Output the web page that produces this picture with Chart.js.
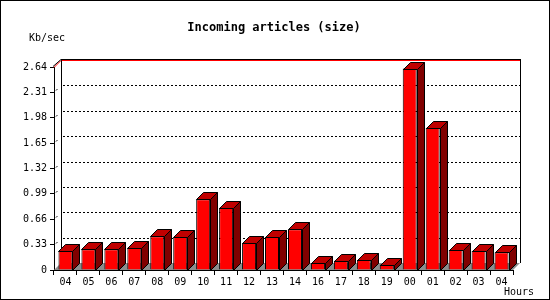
<!DOCTYPE html>
<html lang="en">
<head>
  <meta charset="UTF-8">
  <title>Incoming articles (size)</title>
  <style>
    body { margin: 0; background: #fff; }
    canvas { display: block; }
  </style>
</head>
<body>
  <canvas id="grafico" width="550" height="300"></canvas>

  <script src="https://cdn.jsdelivr.net/npm/chart.js"></script>
  <script>
    // data
    const hours = ['04', '05', '06', '07', '08', '09', '10', '11', '12', '13', '14', '16', '17', '18', '19', '00', '01', '02', '03', '04'];
    const kbPerSec = [0.25, 0.27, 0.27, 0.29, 0.44, 0.43, 0.92, 0.81, 0.35, 0.43, 0.53, 0.09, 0.12, 0.13, 0.07, 2.62, 1.85, 0.26, 0.25, 0.23];
    const yTickValues = [0, 0.33, 0.66, 0.99, 1.32, 1.65, 1.98, 2.31, 2.64];
    const yTickLabels = ['0', '0.33', '0.66', '0.99', '1.32', '1.65', '1.98', '2.31', '2.64'];

    const D = 7; // depth of the 3d effect
    const mono = '"DejaVu Sans Mono", "Liberation Mono", monospace';

    // back wall, floor, grid and the 3d faces of the bars
    const caja3d = {
      id: 'caja3d',
      beforeDatasetsDraw(chart) {
        const { ctx, chartArea: a, scales: { y } } = chart;
        const L = a.left, R = a.right, B = a.bottom;
        const top = Math.round(y.getPixelForValue(yTickValues[yTickValues.length - 1]));
        ctx.save();

        // floor
        ctx.fillStyle = '#8c8c8c';
        ctx.beginPath();
        ctx.moveTo(L, B);
        ctx.lineTo(R, B);
        ctx.lineTo(R + D, B - D);
        ctx.lineTo(L + D, B - D);
        ctx.closePath();
        ctx.fill();

        // dotted grid on the back wall
        ctx.strokeStyle = '#000';
        ctx.lineWidth = 1;
        ctx.setLineDash([2, 2]);
        yTickValues.slice(1, -1).forEach(v => {
          const py = Math.round(y.getPixelForValue(v)) - D + 0.5;
          ctx.beginPath();
          ctx.moveTo(L + D + 2, py);
          ctx.lineTo(R + D, py);
          ctx.stroke();
          // small slanted mark between axis and wall
          ctx.beginPath();
          ctx.moveTo(L + 2, py + D - 2);
          ctx.lineTo(L + 4, py + D - 4);
          ctx.stroke();
        });
        ctx.setLineDash([]);

        // wall edges
        ctx.beginPath();
        ctx.moveTo(L + D + 0.5, top - D);
        ctx.lineTo(L + D + 0.5, B - D);
        ctx.moveTo(R + D + 0.5, top - D);
        ctx.lineTo(R + D + 0.5, B - D);
        ctx.moveTo(L + D, top - D - 0.5);
        ctx.lineTo(R + D + 1, top - D - 0.5);
        ctx.stroke();

        // red line along the top
        ctx.strokeStyle = '#ff0000';
        ctx.beginPath();
        ctx.moveTo(L + D + 1, top - D + 0.5);
        ctx.lineTo(R + D, top - D + 0.5);
        ctx.stroke();
        ctx.beginPath();
        ctx.moveTo(L, top + 0.5);
        ctx.lineTo(L + D, top - D + 0.5);
        ctx.stroke();
        ctx.strokeStyle = '#000';
        ctx.beginPath();
        ctx.moveTo(L - 1, top - 0.5);
        ctx.lineTo(L + D, top - D - 0.5);
        ctx.stroke();

        ctx.restore();
      },
      afterDatasetsDraw(chart) {
        const { ctx } = chart;
        ctx.save();
        ctx.strokeStyle = '#000';
        ctx.lineWidth = 1;
        chart.getDatasetMeta(0).data.forEach(bar => {
          const p = bar.getProps(['x', 'y', 'base', 'width'], true);
          const l = Math.round(p.x - p.width / 2) + 0.5;
          const r = Math.round(p.x + p.width / 2) + 0.5;
          const t = Math.round(p.y) + 0.5;
          const b = Math.round(p.base) + 0.5;
          // top face
          ctx.fillStyle = '#c00000';
          ctx.beginPath();
          ctx.moveTo(l, t);
          ctx.lineTo(l + D, t - D);
          ctx.lineTo(r + D, t - D);
          ctx.lineTo(r, t);
          ctx.closePath();
          ctx.fill();
          ctx.stroke();
          // side face
          ctx.fillStyle = '#800000';
          ctx.beginPath();
          ctx.moveTo(r, t);
          ctx.lineTo(r + D, t - D);
          ctx.lineTo(r + D, b - D);
          ctx.lineTo(r, b);
          ctx.closePath();
          ctx.fill();
          ctx.stroke();
        });
        ctx.restore();
      },
      afterDraw(chart) {
        const { ctx, width, height } = chart;
        ctx.save();
        ctx.fillStyle = '#000';
        ctx.textBaseline = 'middle';
        ctx.font = 'bold 12px ' + mono;
        ctx.textAlign = 'center';
        ctx.fillText('Incoming articles (size)', 274, 28);
        ctx.font = '10px ' + mono;
        ctx.textAlign = 'left';
        ctx.fillText('Kb/sec', 29, 38);
        ctx.fillText('Hours', 504, 292);
        // frame
        ctx.strokeStyle = '#000';
        ctx.strokeRect(0.5, 0.5, width - 1, height - 1);
        ctx.restore();
      }
    };

    new Chart(document.getElementById('grafico'), {
      type: 'bar',
      data: {
        labels: hours,
        datasets: [{
          label: 'Kb/sec',
          data: kbPerSec,
          backgroundColor: '#ff0000',
          borderColor: '#000',
          borderWidth: 1,
          barPercentage: 0.61,
          categoryPercentage: 1
        }]
      },
      options: {
        responsive: false,
        animation: false,
        devicePixelRatio: 1,
        layout: { padding: { left: 0, top: 67, right: 37, bottom: 0 } },
        plugins: {
          legend: { display: false },
          tooltip: { enabled: false }
        },
        scales: {
          x: {
            afterFit: s => { s.height = 30; },
            grid: { drawOnChartArea: false, color: '#000', tickLength: 5, offset: true },
            border: { color: '#000' },
            ticks: { color: '#000', font: { family: mono, size: 10 }, padding: 1, maxRotation: 0, autoSkip: false }
          },
          y: {
            min: 0,
            max: 2.64,
            afterFit: s => { s.width = 54; },
            afterBuildTicks: s => { s.ticks = yTickValues.map(v => ({ value: v })); },
            grid: { drawOnChartArea: false, color: '#000', tickLength: 4 },
            border: { color: '#000' },
            ticks: {
              color: '#000',
              font: { family: mono, size: 10 },
              padding: 3,
              callback: (v, i) => yTickLabels[i]
            }
          }
        }
      },
      plugins: [caja3d]
    });
  </script>
</body>
</html>
